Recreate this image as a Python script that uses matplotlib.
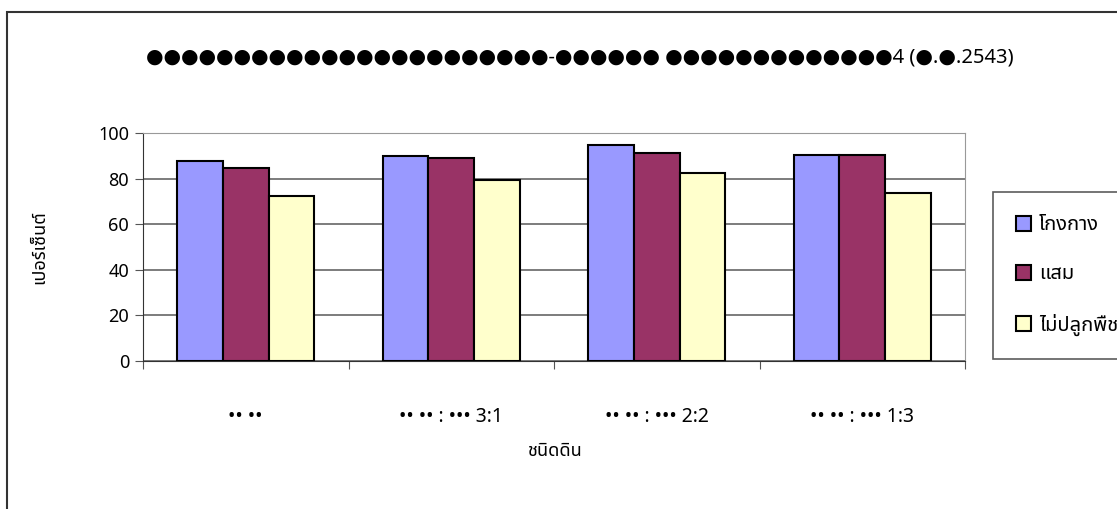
import matplotlib
matplotlib.use('Agg')
import matplotlib.pyplot as plt
import numpy as np
from matplotlib.patches import Rectangle

plt.rcParams['font.family'] = ['Noto Sans Thai', 'Loma', 'Garuda', 'Tlwg Typo', 'DejaVu Sans']

# ข้อมูล
categories = ['•• ••', '•• •• : ••• 3:1', '•• •• : ••• 2:2', '•• •• : ••• 1:3']
series = ['โกงกาง', 'แสม', 'ไม่ปลูกพืช']
kongkang = [87.5, 90.1, 94.7, 90.3]
samae = [84.7, 89.1, 91.2, 90.3]
no_plant = [72.4, 79.4, 82.4, 73.6]
colors = ['#9999ff', '#993366', '#ffffcc']
title = '●●●●●●●●●●●●●●●●●●●●●●●-●●●●●● ●●●●●●●●●●●●●4 (●.●.2543)'

fig = plt.figure(figsize=(11.17, 5.09), dpi=100)
# กรอบนอก
fig.patches.append(Rectangle((6.5 / 1117, -0.1), 1.2, 1 - 11.5 / 509 + 0.1,
                             transform=fig.transFigure, fill=False,
                             edgecolor='#333333', linewidth=1.5))

ax = fig.add_axes([143 / 1117, 1 - 361 / 509, 822 / 1117, 228 / 509])

x = np.arange(len(categories))
w = 1 / 4.5
for i, vals in enumerate([kongkang, samae, no_plant]):
    ax.bar(x + (i - 1) * w, vals, w, color=colors[i], edgecolor='black',
           linewidth=1.5, label=series[i], zorder=3)

ax.set_xlim(-0.5, 3.5)
ax.set_ylim(0, 100)
ax.set_yticks(range(0, 101, 20))
ax.set_xticks(np.arange(-0.5, 4, 1))
ax.set_xticklabels([])
ax.set_xticks(x, minor=True)
ax.set_xticklabels(categories, minor=True, fontsize=14, fontweight='bold')
ax.tick_params(axis='x', which='minor', length=0, pad=33)
ax.tick_params(axis='x', which='major', length=6, color='#555555')
ax.tick_params(axis='y', length=6, labelsize=13, pad=4, color='#555555')
ax.grid(axis='y', color='#666666', linewidth=1.2, zorder=0)

ax.spines['left'].set_color('#333333')
ax.spines['bottom'].set_color('#333333')
ax.spines['top'].set_color('#999999')
ax.spines['right'].set_color('#999999')

ax.set_ylabel('เปอร์เซ็นต์', fontsize=13, fontweight='bold', labelpad=36)
ax.set_xlabel('ชนิดดิน', fontsize=13, fontweight='bold', labelpad=11)

fig.text(580 / 1117, 1 - 57 / 509, title,
         ha='center', va='center', fontsize=14.5, fontweight='bold')

leg = ax.legend(loc='upper left', bbox_to_anchor=(993 / 1117, 1 - 192 / 509),
                bbox_transform=fig.transFigure, frameon=True, fancybox=False,
                edgecolor='#333333', fontsize=14.5, handlelength=0.75,
                handleheight=0.75, labelspacing=1.45, borderpad=1.15,
                handletextpad=0.4, borderaxespad=0)
leg.get_frame().set_linewidth(1.2)

fig.savefig('out.png', dpi=100)
